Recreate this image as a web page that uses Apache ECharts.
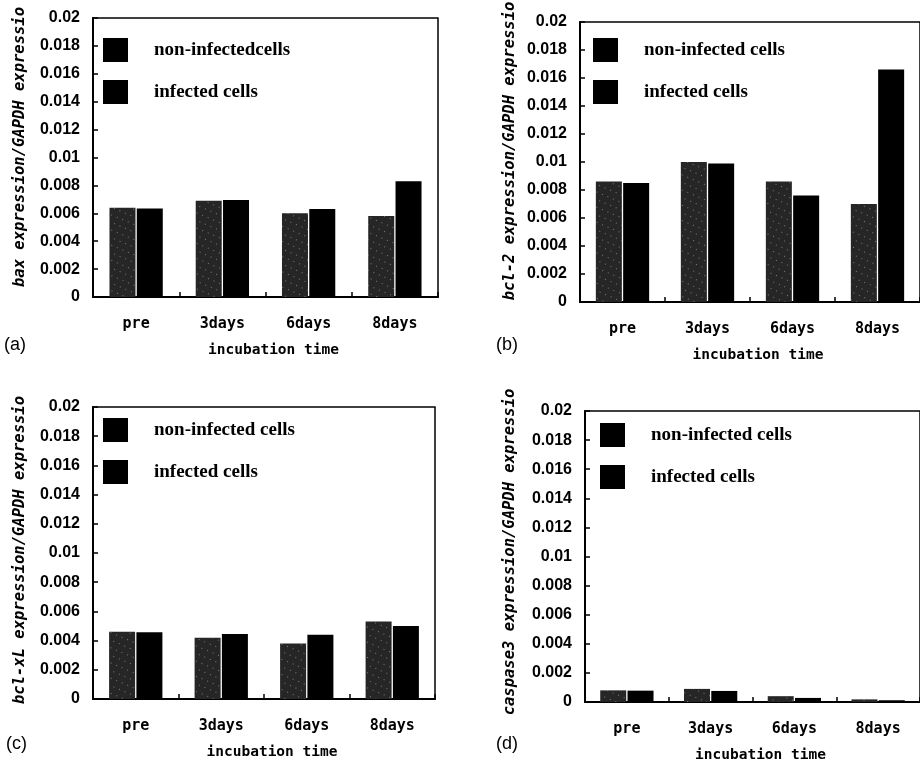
<!DOCTYPE html>
<html>
<head>
<meta charset="utf-8">
<script src="https://cdn.jsdelivr.net/npm/echarts@6/dist/echarts.min.js"></script>
<style>
html,body{margin:0;padding:0;background:#fff;}
#chart{width:920px;height:764px;}
</style>
</head>
<body>
<div id="chart"></div>
<script>
const categories = ['pre', '3days', '6days', '8days'];
const baxNon = [0.0064, 0.0069, 0.0060, 0.0058];
const baxInf = [0.00635, 0.00695, 0.0063, 0.0083];
const bcl2Non = [0.0086, 0.0100, 0.0086, 0.0070];
const bcl2Inf = [0.0085, 0.0099, 0.0076, 0.0166];
const bclxlNon = [0.0046, 0.0042, 0.0038, 0.0053];
const bclxlInf = [0.00457, 0.00446, 0.0044, 0.0050];
const casp3Non = [0.0008, 0.0009, 0.0004, 0.00018];
const casp3Inf = [0.00078, 0.00076, 0.00028, 0.00012];

const legendA = ['non-infectedcells', 'infected cells'];
const legendB = ['non-infected cells', 'infected cells'];
const yNames = ['bax expression/GAPDH expressio', 'bcl-2 expression/GAPDH expressio', 'bcl-xL expression/GAPDH expressio', 'caspase3 expression/GAPDH expressio'];
const panelLetters = ['(a)', '(b)', '(c)', '(d)'];
const xName = 'incubation time';

const panels = [
  {grid: {left: 93, top: 18, width: 345, height: 279}, non: baxNon, inf: baxInf, leg: legendA, legPos: {left: 103, top: 38}, yName: {x: 20, y: 147}, letter: {x: 4, y: 345}},
  {grid: {left: 580, top: 22, width: 344, height: 280}, non: bcl2Non, inf: bcl2Inf, leg: legendB, legPos: {left: 593, top: 38}, yName: {x: 510, y: 151}, letter: {x: 496, y: 345}},
  {grid: {left: 93, top: 407, width: 342, height: 292}, non: bclxlNon, inf: bclxlInf, leg: legendB, legPos: {left: 103, top: 418}, yName: {x: 20, y: 550}, letter: {x: 6, y: 744}},
  {grid: {left: 585, top: 411, width: 346, height: 291}, non: casp3Non, inf: casp3Inf, leg: legendB, legPos: {left: 600, top: 423}, yName: {x: 510, y: 552}, letter: {x: 496, y: 744}}
];

const grids = [], xAxes = [], yAxes = [], series = [], legends = [], graphics = [];
panels.forEach((p, i) => {
  grids.push(Object.assign({show: true, borderColor: '#000', borderWidth: 1.5, backgroundColor: 'transparent'}, p.grid));
  xAxes.push({
    type: 'category', gridIndex: i, data: categories,
    axisLine: {lineStyle: {color: '#000', width: 2}},
    axisTick: {show: true, inside: true, length: 5, lineStyle: {color: '#000', width: 1.5}},
    axisLabel: {color: '#000', fontFamily: 'DejaVu Sans Mono', fontWeight: 'bold', fontSize: 15, margin: 20},
    name: xName, nameLocation: 'middle', nameGap: 46,
    nameTextStyle: {color: '#000', fontFamily: 'DejaVu Sans Mono', fontSize: 14.5, fontWeight: 'bold', padding: [0, 0, 0, 16]}
  });
  yAxes.push({
    type: 'value', gridIndex: i, min: 0, max: 0.02, interval: 0.002,
    axisLine: {show: true, lineStyle: {color: '#000', width: 2}},
    axisTick: {show: true, inside: true, length: 5, lineStyle: {color: '#000', width: 1.5}},
    splitLine: {show: false},
    axisLabel: {color: '#000', fontFamily: 'Liberation Sans', fontWeight: 'bold', fontSize: 16, margin: 13}
  });
  series.push({
    name: p.leg[0], type: 'bar', xAxisIndex: i, yAxisIndex: i, data: p.non,
    barWidth: 26, barGap: '5%',
    itemStyle: {color: '#262626', decal: {symbol: 'rect', symbolSize: 1, color: 'rgba(255,255,255,0.4)', dashArrayX: [1, 5], dashArrayY: [1, 6], rotation: 0.4}}
  });
  series.push({
    name: p.leg[1], type: 'bar', xAxisIndex: i, yAxisIndex: i, data: p.inf,
    barWidth: 26, barGap: '5%',
    itemStyle: {color: '#000'}
  });
  legends.push({
    orient: 'vertical', left: p.legPos.left, top: p.legPos.top, padding: 0,
    itemWidth: 25, itemHeight: 24, itemGap: 18, icon: 'rect', selectedMode: false,
    data: p.leg.map(n => ({name: n, itemStyle: {color: '#000', decal: 'none'}})),
    textStyle: {color: '#000', fontFamily: 'Liberation Serif', fontSize: 19, fontWeight: 'bold', padding: [10, 0, 0, 21]}
  });
  graphics.push({
    type: 'text', x: p.yName.x, y: p.yName.y, rotation: Math.PI / 2,
    style: {text: yNames[i], fill: '#000', font: 'italic bold 15.5px "DejaVu Sans Mono"', textAlign: 'center', textVerticalAlign: 'middle'}
  });
  graphics.push({
    type: 'text', x: p.letter.x, y: p.letter.y,
    style: {text: panelLetters[i], fill: '#000', font: '18px "Liberation Sans"', textAlign: 'left', textVerticalAlign: 'middle'}
  });
});

const chart = echarts.init(document.getElementById('chart'));
chart.setOption({
  animation: false,
  backgroundColor: '#fff',
  grid: grids, xAxis: xAxes, yAxis: yAxes, series: series, legend: legends, graphic: graphics
});
</script>
</body>
</html>
